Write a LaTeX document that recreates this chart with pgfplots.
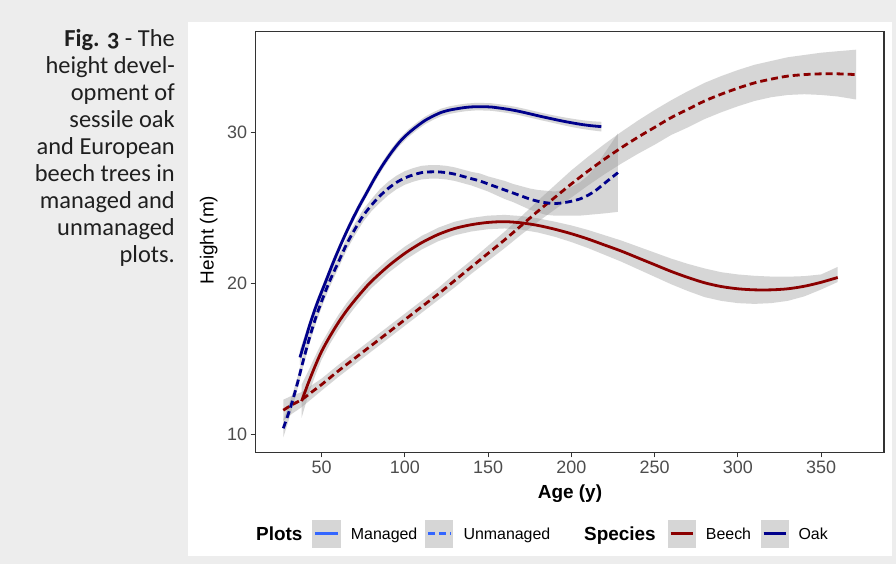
\documentclass[border=0pt]{standalone}
\usepackage{fontspec}
\setmainfont{Liberation Sans}
\newfontfamily\capfont{Carlito}[Numbers=OldStyle]
\usepackage{pgfplots}
\pgfplotsset{compat=1.18}
\usepackage{pgfplotstable}
\definecolor{bg}{RGB}{237,237,237}
\definecolor{navyc}{RGB}{0,0,139}
\definecolor{redc}{RGB}{139,0,0}
\definecolor{keyblue}{RGB}{51,102,255}
\definecolor{bandc}{RGB}{153,153,153}
\definecolor{keybg}{RGB}{214,214,214}
\definecolor{tickc}{RGB}{77,77,77}
\definecolor{framec}{RGB}{51,51,51}

% ---------- fitted curves ----------
\pgfplotstableread{
age y
37 15.1
40 16.2
43 17.3
47 18.6
52 20.0
57 21.4
62 22.7
67 23.9
72 25.0
77 26.0
82 27.0
87 27.9
92 28.7
97 29.4
102 29.95
107 30.4
112 30.8
117 31.1
122 31.35
127 31.5
132 31.6
137 31.68
142 31.72
147 31.72
152 31.7
157 31.63
162 31.55
167 31.45
172 31.33
177 31.2
182 31.07
187 30.95
192 30.83
197 30.72
202 30.62
207 30.53
212 30.46
218 30.4
}\om

\pgfplotstableread{
age y
27 10.4
30 11.35
33 12.4
36 13.6
39 14.9
43 16.5
47 17.9
51 19.1
55 20.2
60 21.4
65 22.6
70 23.6
75 24.5
80 25.2
85 25.8
90 26.3
95 26.7
100 27.0
105 27.2
110 27.35
115 27.4
120 27.4
125 27.35
130 27.25
135 27.1
140 26.95
145 26.8
150 26.6
155 26.4
160 26.2
165 26.0
170 25.8
175 25.6
180 25.45
185 25.35
190 25.3
195 25.35
200 25.45
205 25.6
210 25.85
215 26.2
220 26.65
224 27.0
228 27.35
}\ou

\pgfplotstableread{
age y
38 12.2
42 13.4
46 14.5
50 15.5
55 16.5
60 17.4
65 18.2
70 18.9
75 19.55
80 20.15
90 21.15
100 22.0
110 22.7
120 23.25
130 23.65
140 23.9
150 24.05
160 24.1
170 24.02
180 23.85
190 23.6
200 23.3
210 22.95
220 22.55
230 22.15
240 21.7
250 21.25
260 20.8
270 20.4
280 20.05
290 19.8
300 19.65
310 19.58
320 19.58
330 19.65
340 19.82
350 20.08
360 20.4
}\bm

\pgfplotstableread{
age y
27 11.6
32 11.95
38 12.3
44 12.8
50 13.3
60 14.2
70 15.05
80 15.9
90 16.75
100 17.6
110 18.45
120 19.3
130 20.2
140 21.1
150 22.0
160 22.9
170 23.85
180 24.8
190 25.7
200 26.6
210 27.45
220 28.25
230 29.0
240 29.7
250 30.35
260 31.0
270 31.55
280 32.1
290 32.55
300 32.95
310 33.3
320 33.55
330 33.75
340 33.85
350 33.9
360 33.9
371 33.85
}\bu

% ---------- confidence bands (upper edge forward, lower edge back) ----------
\pgfplotstableread{
age v
37 15.6
40 16.6
43 17.65
47 18.9
52 20.3
57 21.7
62 22.95
67 24.15
72 25.25
77 26.25
82 27.25
87 28.15
92 28.95
97 29.65
102 30.2
107 30.65
112 31.05
117 31.35
122 31.6
127 31.75
132 31.85
137 31.93
142 31.97
147 31.97
152 31.95
157 31.88
162 31.8
167 31.7
172 31.58
177 31.45
182 31.32
187 31.2
192 31.09
197 30.99
202 30.9
207 30.82
212 30.76
218 30.72
218 30.08
212 30.16
207 30.24
202 30.34
197 30.45
192 30.57
187 30.7
182 30.82
177 30.95
172 31.08
167 31.2
162 31.3
157 31.38
152 31.45
147 31.47
142 31.47
137 31.43
132 31.35
127 31.25
122 31.1
117 30.85
112 30.55
107 30.15
102 29.7
97 29.15
92 28.45
87 27.65
82 26.75
77 25.75
72 24.75
67 23.65
62 22.45
57 21.1
52 19.7
47 18.3
43 16.95
40 15.8
37 14.6
}\omband

\pgfplotstableread{
age v
27 11.0
30 11.85
33 12.85
36 14.0
39 15.3
43 16.9
47 18.3
51 19.5
55 20.6
60 21.8
65 23.0
70 24.0
75 24.9
80 25.6
85 26.25
90 26.75
95 27.15
100 27.45
105 27.65
110 27.8
115 27.85
120 27.85
125 27.8
130 27.7
135 27.55
140 27.4
145 27.3
150 27.1
155 26.95
160 26.8
165 26.6
170 26.45
175 26.3
180 26.2
185 26.15
190 26.1
195 26.2
200 26.4
205 26.7
210 27.15
215 27.8
220 28.65
224 29.3
228 29.95
228 24.75
224 24.7
220 24.65
215 24.6
210 24.55
205 24.5
200 24.5
195 24.5
190 24.5
185 24.55
180 24.7
175 24.9
170 25.15
165 25.4
160 25.6
155 25.85
150 26.1
145 26.3
140 26.5
135 26.65
130 26.8
125 26.9
120 26.95
115 26.95
110 26.9
105 26.75
100 26.55
95 26.25
90 25.85
85 25.35
80 24.8
75 24.1
70 23.2
65 22.2
60 21.0
55 19.8
51 18.7
47 17.5
43 16.1
39 14.5
36 13.2
33 11.95
30 10.85
27 9.8
}\ouband

\pgfplotstableread{
age v
38 13.3
42 14.2
46 15.15
50 16.05
55 17.0
60 17.9
65 18.7
70 19.38
75 20.02
80 20.6
90 21.6
100 22.45
110 23.15
120 23.7
130 24.1
140 24.35
150 24.5
160 24.55
170 24.47
180 24.32
190 24.1
200 23.85
210 23.55
220 23.2
230 22.85
240 22.45
250 22.05
260 21.65
270 21.3
280 21.0
290 20.75
300 20.6
310 20.51
320 20.46
330 20.45
340 20.49
350 20.6
360 21.1
360 20.1
350 19.6
340 19.15
330 18.85
320 18.7
310 18.65
300 18.7
290 18.85
280 19.1
270 19.5
260 19.95
250 20.45
240 20.95
230 21.45
220 21.9
210 22.35
200 22.75
190 23.1
180 23.38
170 23.57
160 23.65
150 23.6
140 23.45
130 23.2
120 22.8
110 22.25
100 21.55
90 20.7
80 19.7
75 19.08
70 18.42
65 17.7
60 16.9
55 16.0
50 14.95
46 13.85
42 12.6
38 11.1
}\bmband

\pgfplotstableread{
age v
27 12.3
32 12.55
38 12.8
44 13.25
50 13.7
60 14.6
70 15.45
80 16.3
90 17.15
100 18.0
110 18.85
120 19.7
130 20.65
140 21.55
150 22.5
160 23.45
170 24.45
180 25.5
190 26.5
200 27.5
210 28.4
220 29.25
230 30.05
240 30.8
250 31.5
260 32.15
270 32.75
280 33.3
290 33.75
300 34.15
310 34.5
320 34.75
330 35.0
340 35.15
350 35.3
360 35.4
371 35.5
371 32.2
360 32.4
350 32.5
340 32.55
330 32.5
320 32.35
310 32.1
300 31.75
290 31.35
280 30.9
270 30.35
260 29.85
250 29.2
240 28.6
230 27.95
220 27.25
210 26.5
200 25.7
190 24.9
180 24.1
170 23.25
160 22.35
150 21.5
140 20.65
130 19.75
120 18.9
110 18.05
100 17.2
90 16.35
80 15.5
70 14.65
60 13.8
50 12.9
44 12.35
38 11.8
32 11.35
27 10.9
}\buband

\begin{document}
\begin{tikzpicture}
\fill[bg] (0bp,0bp) rectangle (896bp,-564bp);
\fill[white] (188bp,-22bp) rectangle (892bp,-556bp);

% caption
\begin{scope}[every node/.style={anchor=base east, inner sep=0pt, text=black!88, font=\capfont\fontsize{24.5}{27}\selectfont}]
\node at (175bp,-46bp) {\textbf{Fig. 3} - The};
\node at (175bp,-73bp) {height devel-};
\node at (175bp,-100bp) {opment of};
\node at (175bp,-127bp) {sessile oak};
\node at (175bp,-154bp) {and European};
\node at (175bp,-181bp) {beech trees in};
\node at (175bp,-208bp) {managed and};
\node at (175bp,-235bp) {unmanaged};
\node at (175bp,-262bp) {plots.};
\end{scope}

\begin{axis}[
  at={(255.5bp,-452.3bp)}, anchor=south west,
  scale only axis, width=628.5bp, height=421bp,
  xmin=10.3, xmax=387.8, ymin=8.81, ymax=36.72,
  axis line style={framec, line width=1.1bp},
  tick pos=left, tick align=outside, major tick length=5bp,
  tick style={framec, line width=1.1bp},
  xtick={50,100,...,350}, ytick={10,20,30},
  ticklabel style={font=\fontsize{18}{18}\selectfont, text=tickc},
  /pgf/number format/assume math mode=true,
]
% bands
\addplot[fill=bandc, fill opacity=0.4, draw=none, forget plot] table[x=age,y=v]{\omband};
\addplot[fill=bandc, fill opacity=0.4, draw=none, forget plot] table[x=age,y=v]{\ouband};
\addplot[fill=bandc, fill opacity=0.4, draw=none, forget plot] table[x=age,y=v]{\bmband};
\addplot[fill=bandc, fill opacity=0.4, draw=none, forget plot] table[x=age,y=v]{\buband};
% lines
\addplot[redc, line width=2.8bp, smooth] table[x=age,y=y]{\bm};
\addplot[redc, line width=2.8bp, smooth, dash pattern=on 7bp off 4bp] table[x=age,y=y]{\bu};
\addplot[navyc, line width=2.8bp, smooth] table[x=age,y=y]{\om};
\addplot[navyc, line width=2.8bp, smooth, dash pattern=on 7bp off 4bp] table[x=age,y=y]{\ou};
\end{axis}

% axis titles
\node[anchor=base, inner sep=0pt, font=\bfseries\fontsize{19}{19}\selectfont] at (570bp,-498bp) {Age (y)};
\node[anchor=base, rotate=90, inner sep=0pt, font=\fontsize{19}{19}\selectfont] at (213.5bp,-240bp) {Height (m)};

% legend
\node[anchor=base west, inner sep=0pt, font=\bfseries\fontsize{19}{19}\selectfont] at (256bp,-540bp) {Plots};
\fill[keybg] (312.3bp,-520bp) rectangle (340.7bp,-547.7bp);
\draw[keyblue, line width=2.8bp] (315.3bp,-533.8bp) -- (337.7bp,-533.8bp);
\node[anchor=base west, inner sep=0pt, font=\fontsize{16}{16}\selectfont] at (350.7bp,-539.5bp) {Managed};
\fill[keybg] (425bp,-520bp) rectangle (453.3bp,-547.7bp);
\draw[keyblue, line width=2.8bp, dash pattern=on 7bp off 4bp] (428bp,-533.8bp) -- (450.3bp,-533.8bp);
\node[anchor=base west, inner sep=0pt, font=\fontsize{16}{16}\selectfont] at (463.3bp,-539.5bp) {Unmanaged};

\node[anchor=base west, inner sep=0pt, font=\bfseries\fontsize{19}{19}\selectfont] at (584bp,-540bp) {Species};
\fill[keybg] (667.7bp,-520bp) rectangle (696bp,-547.7bp);
\draw[redc, line width=2.8bp] (670.7bp,-533.8bp) -- (693bp,-533.8bp);
\node[anchor=base west, inner sep=0pt, font=\fontsize{16}{16}\selectfont] at (705.7bp,-539.5bp) {Beech};
\fill[keybg] (760.7bp,-520bp) rectangle (789bp,-547.7bp);
\draw[navyc, line width=2.8bp] (763.7bp,-533.8bp) -- (786bp,-533.8bp);
\node[anchor=base west, inner sep=0pt, font=\fontsize{16}{16}\selectfont] at (798.3bp,-539.5bp) {Oak};

\pgfresetboundingbox
\useasboundingbox (0bp,0bp) rectangle (896bp,-564bp);
\end{tikzpicture}
\end{document}
